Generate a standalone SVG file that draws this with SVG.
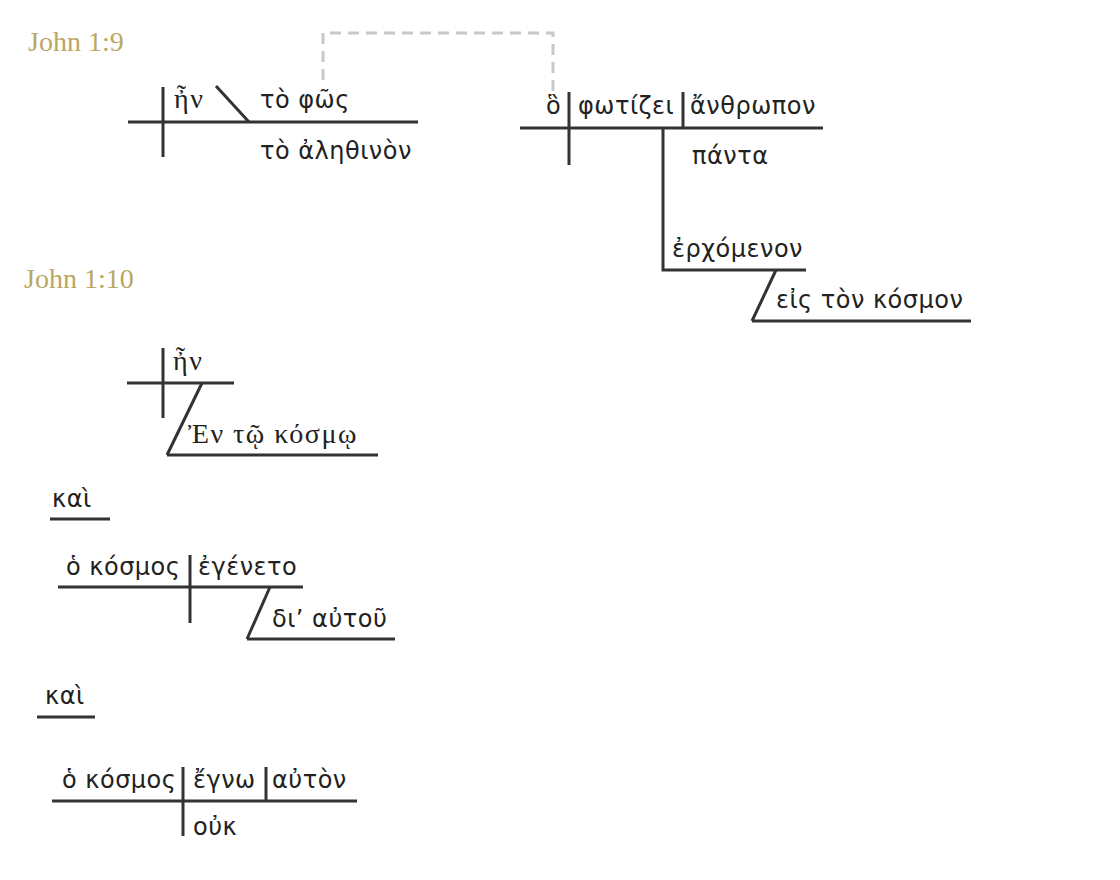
<svg xmlns="http://www.w3.org/2000/svg" width="1120" height="880" viewBox="0 0 1120 880">
<style>
.ln{stroke:#333;stroke-width:3;fill:none;stroke-linecap:butt}
.g{font-family:"DejaVu Sans","Noto Sans",sans-serif;font-size:24px;letter-spacing:0.5px;fill:#222}
.s{font-family:"Liberation Serif","DejaVu Serif",serif;font-size:28px;letter-spacing:1.5px;fill:#222}
.h{font-family:"Liberation Serif","DejaVu Serif",serif;font-size:28px;fill:#b9a761}
.dash{stroke:#c8c8c8;stroke-width:3;fill:none;stroke-dasharray:11 7}
</style>
<rect width="1120" height="880" fill="#fff"/>
<text class="h" x="28" y="51">John 1:9</text>
<text class="h" x="24" y="288">John 1:10</text>
<g id="connectors">
<path class="dash" d="M323,80 V33 H553 V92"/>
</g>
<g id="clause1">
<line class="ln" x1="128" y1="122" x2="418" y2="122"/>
<line class="ln" x1="163" y1="87" x2="163" y2="157"/>
<line class="ln" x1="216" y1="86" x2="249" y2="122"/>
<text class="s" x="174" y="108">ἦν</text>
<text class="g" x="260" y="108">τὸ φῶς</text>
<text class="g" x="260" y="159">τὸ ἀληθινὸν</text>
</g>
<g id="clause2">
<line class="ln" x1="520" y1="128" x2="823" y2="128"/>
<line class="ln" x1="569" y1="92" x2="569" y2="165"/>
<line class="ln" x1="683" y1="92" x2="683" y2="128"/>
<polyline class="ln" points="663,128 663,270 806,270"/>
<line class="ln" x1="776" y1="270" x2="752" y2="321"/>
<line class="ln" x1="752" y1="321" x2="971" y2="321"/>
<text class="g" x="546" y="114">ὃ</text>
<text class="g" x="578" y="114">φωτίζει</text>
<text class="g" x="690" y="114">ἄνθρωπον</text>
<text class="g" x="692" y="164">πάντα</text>
<text class="g" x="672" y="257">ἐρχόμενον</text>
<text class="g" x="776" y="308">εἰς τὸν κόσμον</text>
</g>
<g id="clause3">
<line class="ln" x1="127" y1="383" x2="234" y2="383"/>
<line class="ln" x1="163" y1="348" x2="163" y2="418"/>
<line class="ln" x1="202" y1="383" x2="167" y2="455"/>
<line class="ln" x1="167" y1="455" x2="378" y2="455"/>
<text class="s" x="173" y="370">ἦν</text>
<text class="s" x="188" y="443">Ἐν τῷ κόσμῳ</text>
</g>
<g id="conj1">
<line class="ln" x1="50" y1="519" x2="110" y2="519"/>
<text class="g" x="52" y="507">καὶ</text>
</g>
<g id="clause4">
<line class="ln" x1="58" y1="587" x2="303" y2="587"/>
<line class="ln" x1="190" y1="555" x2="190" y2="623"/>
<line class="ln" x1="270" y1="587" x2="247" y2="639"/>
<line class="ln" x1="247" y1="639" x2="395" y2="639"/>
<text class="g" x="66" y="575">ὁ κόσμος</text>
<text class="g" x="198" y="575">ἐγένετο</text>
<text class="g" x="272" y="627">δι’ αὐτοῦ</text>
</g>
<g id="conj2">
<line class="ln" x1="37" y1="717" x2="95" y2="717"/>
<text class="g" x="45" y="704">καὶ</text>
</g>
<g id="clause5">
<line class="ln" x1="52" y1="801" x2="357" y2="801"/>
<line class="ln" x1="183" y1="767" x2="183" y2="836"/>
<line class="ln" x1="266" y1="767" x2="266" y2="801"/>
<text class="g" x="62" y="788">ὁ κόσμος</text>
<text class="g" x="193" y="788">ἔγνω</text>
<text class="g" x="272" y="788">αὐτὸν</text>
<text class="g" x="193" y="835">οὐκ</text>
</g>
</svg>
